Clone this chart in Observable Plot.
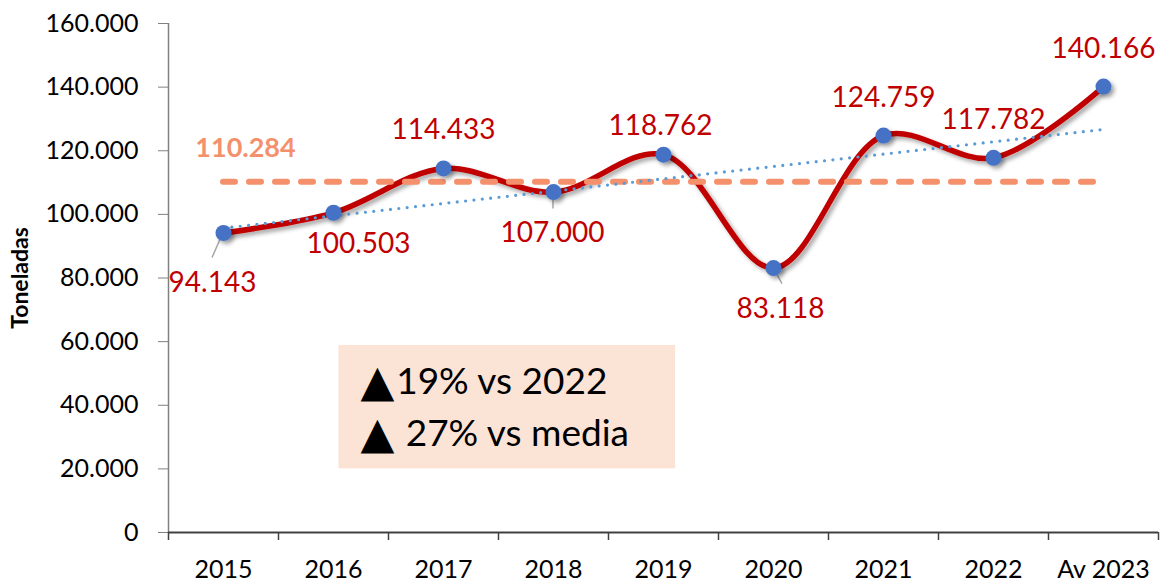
<!DOCTYPE html>
<html>
<head>
<meta charset="utf-8">
<script src="https://cdn.jsdelivr.net/npm/d3@7"></script>
<script src="https://cdn.jsdelivr.net/npm/@observablehq/plot@0.6"></script>
<style>
  html, body { margin: 0; padding: 0; background: #fff; }
  #chart { width: 1161px; height: 583px; }
</style>
</head>
<body>
<div id="chart"></div>
<script>
// ---- data ----
const categories = ["2015", "2016", "2017", "2018", "2019", "2020", "2021", "2022", "Av 2023"];
const toneladas = [94143, 100503, 114433, 107000, 118762, 83118, 124759, 117782, 140166];
const media = 110284;
const yTicks = [0, 20000, 40000, 60000, 80000, 100000, 120000, 140000, 160000];
const noteMarks = ["▲", "▲"];
const notes = ["19% vs 2022", " 27% vs media"];

const data = categories.map((c, i) => ({i, c, v: toneladas[i]}));
const loc = d3.formatLocale({decimal: ",", thousands: ".", grouping: [3], currency: ["", ""]});
const fmt = loc.format(",d");

// label offsets (px) relative to each point
const labelOffsets = [[-11, 50], [25, 31], [0, -38], [-1, 41], [-3, -29], [7, 41], [0, -38], [0, -38], [0, -38]];

const RED = "#C00000", BLUE = "#4472C4", SALMON = "#F4916C", TREND = "#5B9BD5";
const FONT = "Lato, 'Open Sans', sans-serif";

const chart = Plot.plot({
  width: 1161,
  height: 583,
  marginLeft: 168,
  marginRight: 3,
  marginTop: 23,
  marginBottom: 51,
  style: {fontFamily: FONT, fontSize: "25px", color: "#000", background: "#fff"},
  x: {domain: [-0.5, 8.5], axis: null},
  y: {domain: [0, 160000], axis: null},
  marks: [
    // annotation box
    Plot.rect([{x1: 1.05, x2: 4.11, y1: 20000, y2: 58800}], {x1: "x1", x2: "x2", y1: "y1", y2: "y2", fill: "#FBE4D6"}),
    Plot.text([noteMarks[0]], {x: 1.245, y: 47300, text: d => d, textAnchor: "start", fontSize: 44, fontFamily: "DejaVu Sans", fill: "#000"}),
    Plot.text([noteMarks[1]], {x: 1.245, y: 31000, text: d => d, textAnchor: "start", fontSize: 44, fontFamily: "DejaVu Sans", fill: "#000"}),
    Plot.text([notes[0]], {x: 1.57, y: 47300, text: d => d, textAnchor: "start", fontSize: 37, fill: "#000"}),
    Plot.text([notes[1]], {x: 1.57, y: 30900, text: d => d, textAnchor: "start", fontSize: 37, fill: "#000"}),
    // axes
    Plot.ruleX([-0.5], {stroke: "#808080", strokeWidth: 1.5}),
    Plot.axisY({ticks: yTicks, tickSize: 10, tickPadding: 20, tickFormat: fmt, label: null, stroke: "#808080", fontSize: 25}),
    Plot.axisX({ticks: d3.range(-0.5, 9, 1), tickSize: 8, tickFormat: () => "", label: null, stroke: "#404040", strokeWidth: 1.5}),
    Plot.axisX({ticks: d3.range(0, 9), tickSize: 0, tickPadding: 28, tickFormat: i => categories[i], label: null, fontSize: 25}),
    Plot.ruleY([0], {stroke: "#404040", strokeWidth: 2}),
    Plot.text(["Toneladas"], {x: -0.5, y: 80000, text: d => d, rotate: -90, dx: -148, fontWeight: "bold", fontSize: 23, fill: "#000"}),
    // series
    Plot.line(data, {x: "i", y: "v", curve: "catmull-rom", stroke: RED, strokeWidth: 5.5, strokeLinecap: "round"}),
    Plot.ruleY([media], {x1: 0, x2: 8, stroke: SALMON, strokeWidth: 6, strokeDasharray: "12,14", strokeLinecap: "round"}),
    Plot.linearRegressionY(data, {x: "i", y: "v", ci: 0, stroke: TREND, strokeWidth: 3.2, strokeDasharray: "0,8.4", strokeLinecap: "round"}),
    Plot.dot(data, {x: "i", y: "v", r: 8, fill: BLUE}),
    ...data.map((d, k) => Plot.text([d], {x: "i", y: "v", text: e => fmt(e.v), dx: labelOffsets[k][0], dy: labelOffsets[k][1], fill: RED, fontSize: 28})),
    Plot.text([media], {x: 0.2, y: d => d, text: d => fmt(d), dy: -33, fill: SALMON, fontWeight: "bold", fontSize: 27})
  ]
});

document.getElementById("chart").appendChild(chart);

// shadows and leader lines
const svg = d3.select(chart);
const defs = svg.insert("defs", ":first-child");
const f = defs.append("filter").attr("id", "shadow").attr("x", "-20%").attr("y", "-20%").attr("width", "140%").attr("height", "140%");
f.append("feDropShadow").attr("dx", 3).attr("dy", 3).attr("stdDeviation", 2).attr("flood-color", "#000").attr("flood-opacity", 0.35);
svg.selectAll('g[aria-label="line"]').attr("filter", "url(#shadow)");
svg.selectAll('g[aria-label="dot"]').attr("filter", "url(#shadow)");

const sx = chart.scale("x"), sy = chart.scale("y");
const leaders = [[0, -11, 25], [3, 0, 17], [5, 9, 16]];
const lg = svg.insert("g", 'g[aria-label="dot"]');
leaders.forEach(([k, ddx, ddy]) => {
  const px = sx.apply(data[k].i), py = sy.apply(data[k].v);
  lg.append("line").attr("x1", px).attr("y1", py).attr("x2", px + ddx).attr("y2", py + ddy)
    .attr("stroke", "#A6A6A6").attr("stroke-width", 1.5);
});
</script>
</body>
</html>
